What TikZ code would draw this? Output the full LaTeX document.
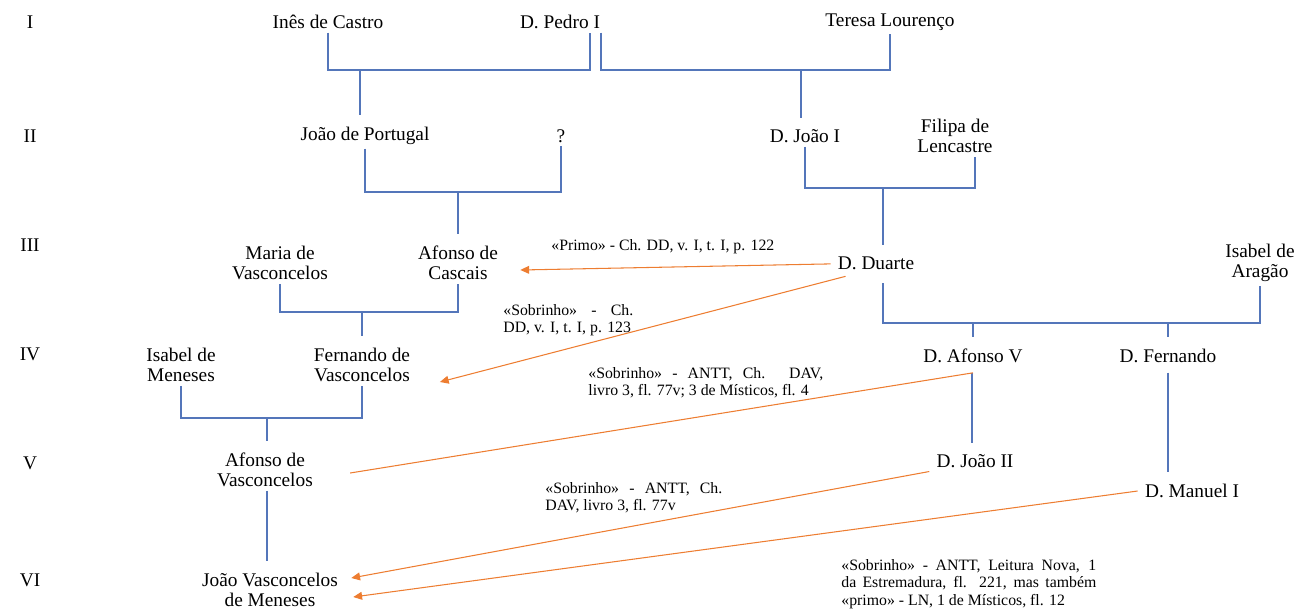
\documentclass[tikz,border=0pt]{standalone}
\usepackage{fontspec}
\setmainfont{Liberation Serif}
\usepackage{xcolor}
\usepackage{tikz}
\usetikzlibrary{arrows.meta}
\definecolor{kinblue}{RGB}{84,118,186}
\definecolor{citeorange}{RGB}{237,125,49}

\begin{document}
\begin{tikzpicture}[x=0.02cm, y=-0.02cm,
    person/.style={font=\fontsize{11}{11.5}\selectfont, align=center, inner xsep=4pt, inner ysep=2pt},
    gen/.style={font=\fontsize{11}{11.5}\selectfont},
    note/.style={font=\fontsize{9}{10}\selectfont, align=justify, anchor=north west, inner sep=0pt},
    kin/.style={draw=kinblue, line width=0.6pt},
    child/.style={kin, shorten >=4.5pt},
    cite/.style={draw=citeorange, line width=0.6pt, -{Triangle[length=5pt,width=4.5pt]}}]
    \useasboundingbox (0,0) rectangle (1309,613);

    % generations
    \node[gen] (I) at (30,22) {I};
    \node[gen] (II) at (30,136) {II};
    \node[gen] (III) at (30,245) {III};
    \node[gen] (IV) at (30,354) {IV};
    \node[gen] (V) at (30,463) {V};
    \node[gen] (VI) at (30,580) {VI};

    \node[person] (ines) at (328,22) {Inês de Castro};
    \node[person] (pedro) at (560,22) {D. Pedro I};
    \node[person] (teresa) at (890,22) {Teresa Lourenço};

    \node[person] (joaop) at (365,136) {João de Portugal};
    \node[person] (q) at (561,136) {?};
    \node[person] (joao1) at (805,136) {D. João I};
    \node[person] (filipa) at (955,136) {Filipa de\\Lencastre};

    \node[person] (maria) at (280,263) {Maria de\\Vasconcelos};
    \node[person] (cascais) at (458,263) {Afonso de\\Cascais};
    \node[person] (duarte) at (876,263) {D. Duarte};
    \node[person] (isabela) at (1260,263) {Isabel de\\Aragão};

    \node[person] (isabelm) at (181,365) {Isabel de\\Meneses};
    \node[person] (fernandov) at (362,365) {Fernando de\\Vasconcelos};
    \node[person] (afonso5) at (973,356) {D. Afonso V};
    \node[person] (fernando) at (1168,356) {D. Fernando};

    \node[person] (afonsov) at (265,470) {Afonso de\\Vasconcelos};
    \node[person] (joao2) at (975,461) {D. João II};
    \node[person] (manuel) at (1192,491) {D. Manuel I};

    \node[person] (joaovm) at (270,590) {João Vasconcelos\\de Meneses};

    % marriages
    \coordinate (m1) at (460,70);
    \coordinate (m2) at (750,70);
    \coordinate (m3) at (460,192);
    \coordinate (m4) at (883,188);
    \coordinate (m5) at (370,312);
    \coordinate (m6) at (1070,323);
    \coordinate (m7) at (267,418);

    \draw[kin] (ines) |- (m1) -| ([xshift=0.6cm]pedro.south);
    \draw[kin] ([xshift=0.82cm]pedro.south) |- (m2) -| (teresa);
    \draw[child] (m1 -| joaop) ++(-0.1cm,0) -- ([xshift=-0.1cm]joaop.north);
    \draw[child] (m2 -| joao1) ++(-0.08cm,0) -- ([xshift=-0.08cm]joao1.north);

    \draw[kin] (joaop) |- (m3) -| (q);
    \draw[kin] (joao1) |- (m4) -| ([xshift=0.4cm]filipa.south);
    \draw[child] (m3 -| cascais) -- (cascais);
    \draw[child] (m4) -- (m4 |- duarte.north);

    \draw[kin] (maria) |- (m5) -| (cascais);
    \draw[kin] ([yshift=-0.2cm]duarte.south -| m4) |- (m6) -| (isabela);
    \draw[child] (m5 -| fernandov) -- (fernandov);
    \draw[child] (m6 -| afonso5) -- (afonso5);
    \draw[child] (m6 -| fernando) -- (fernando);

    \draw[kin] (isabelm) |- (m7) -| (fernandov);
    \draw[child] (m7) -- (m7 |- afonsov.north);
    \draw[child] ([xshift=-0.02cm,yshift=-0.12cm]afonso5.south) -- ([xshift=-0.02cm]afonso5.south |- joao2.north);
    \draw[child] ([yshift=-0.12cm]fernando.south) -- (fernando |- manuel.north);
    \draw[child] (m7 |- afonsov.south) -- (m7 |- joaovm.north);

    % kinship citations
    \draw[cite] (duarte) -- ([xshift=0.3cm,yshift=-0.14cm]cascais.east);
    \draw[cite] ([xshift=0.3cm,yshift=-0.06cm]duarte.south west) -- ([xshift=0.45cm,yshift=-0.34cm]fernandov.east);
    \draw[cite, -] ([yshift=-0.12cm]afonso5.south) -- ([xshift=0.6cm,yshift=-0.06cm]afonsov.east);
    \draw[cite] (joao2.south west) -- ([xshift=0.12cm,yshift=0.24cm]joaovm.east);
    \draw[cite] (manuel.west) -- ([xshift=0.16cm,yshift=-0.14cm]joaovm.east);

    \node[note, anchor=west] (n1) at (551,247) {«Primo» - Ch. DD, v. I, t. I, p. 122};
    \node[note, text width=2.6cm] (n2) at (503,304) {«Sobrinho» - Ch.\linebreak DD, v. I, t. I, p. 123};
    \node[note, text width=4.7cm] (n3) at (588,367) {«Sobrinho» - ANTT, Ch. DAV,\linebreak livro 3, fl. 77v; 3 de Místicos, fl. 4};
    \node[note, text width=3.54cm] (n4) at (545,482) {«Sobrinho» - ANTT, Ch.\linebreak DAV, livro 3, fl. 77v};
    \node[note, text width=5.1cm] (n5) at (841,559) {«Sobrinho» - ANTT, Leitura Nova, 1\linebreak da Estremadura, fl. 221, mas também\linebreak «primo» - LN, 1 de Místicos, fl. 12};
\end{tikzpicture}
\end{document}
